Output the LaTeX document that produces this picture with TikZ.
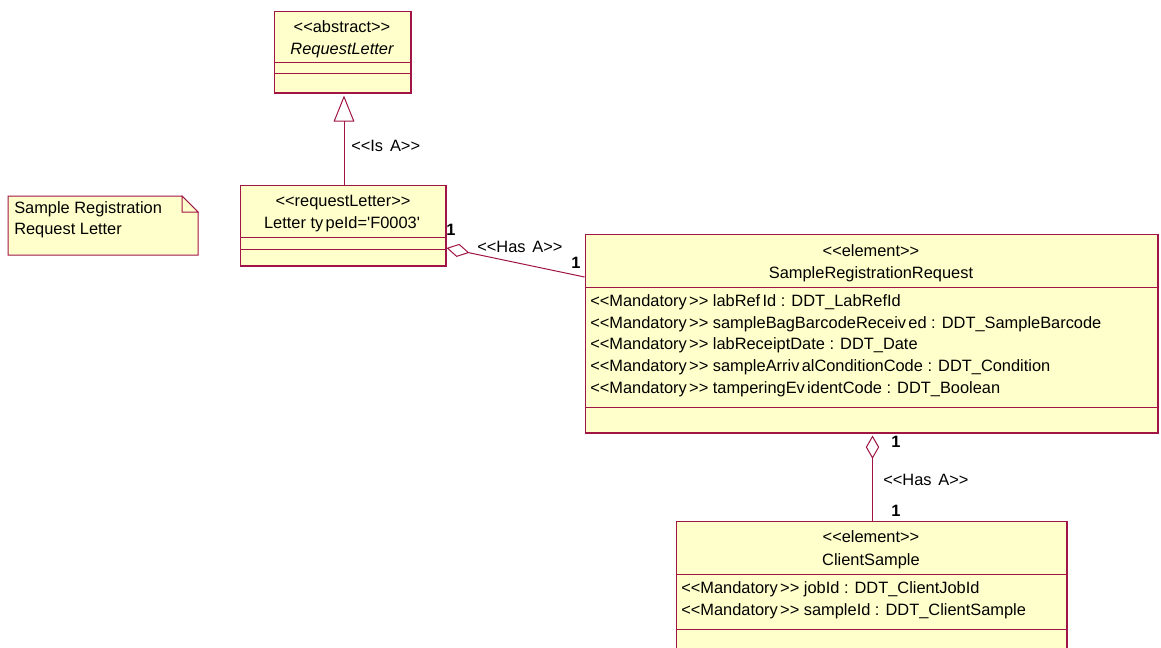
\documentclass[tikz,border=0pt]{standalone}
\usepackage{fontspec}
\setmainfont{Liberation Sans}
\usetikzlibrary{arrows.meta,fit,calc}
\definecolor{umlline}{RGB}{160,20,70}
\definecolor{umlfill}{RGB}{255,255,204}
\newcommand\sopen{\textless\kern0pt\textless}
\newcommand\sclose{\textgreater\kern0pt\textgreater}
\newcommand\gp{\hspace{0.14em}}
\tikzset{
  classbox/.style={draw=umlline, fill=umlfill, line width=0.75pt, inner sep=0pt},
  divider/.style={draw=umlline, line width=0.75pt},
  shadowedge/.style={draw=umlline, line width=1.5pt},
  txt/.style={inner sep=0pt, anchor=base, font=\fontsize{12.3}{14}\selectfont},
  attr/.style={txt, anchor=base west},
  mult/.style={txt, font=\fontsize{12.3}{14}\selectfont\bfseries},
  assoc/.style={draw=umlline, line width=0.75pt},
  aggtip/.style={{Diamond[open, length=17.5pt, width=10pt, line width=0.75pt]}-},
}
\begin{document}
\begin{tikzpicture}[x=0.75pt, y=-0.75pt]
\clip (0,0) rectangle (1161,647);
\fill[white] (0,0) rectangle (1161,647);

% abstract RequestLetter
\node[classbox, fit={(274,11) (410,92)}] (rl) {};
\draw[divider] ($(rl.north west)+(0,52)$) -- ($(rl.north east)+(0,52)$);
\draw[divider] ($(rl.north west)+(0,63)$) -- ($(rl.north east)+(0,63)$);
\draw[shadowedge] (rl.north east) -- (rl.south east) -- (rl.south west);
\node[txt] (rlst) at (342,32) {\sopen abstract\sclose};
\node[txt] (rlname) at (342,54) {\itshape RequestLetter};

% concrete request letter
\node[classbox, fit={(240,185) (445,265)}] (rq) {};
\draw[divider] ($(rq.north west)+(0,53)$) -- ($(rq.north east)+(0,53)$);
\draw[divider] ($(rq.north west)+(0,65)$) -- ($(rq.north east)+(0,65)$);
\draw[shadowedge] (rq.north east) -- (rq.south east) -- (rq.south west);
\node[txt] (rqst) at (343,206) {\sopen requestLetter\sclose};
\node[txt] (rqname) at (342,228) {Letter ty\gp peId=\textquotesingle F0003\textquotesingle};

% note
\path[draw=umlline, fill=umlfill, line width=0.75pt]
  (8,196) -- (182,196) -- (198,212) -- (198,255) -- (8,255) -- cycle;
\path[draw=umlline, fill=umlfill, line width=0.75pt]
  (182,196) -- (182,212) -- (198,212) -- cycle;
\node[attr] (note1) at (14,213) {Sample Registration};
\node[attr] (note2) at (14,234) {Request Letter};

% SampleRegistrationRequest
\node[classbox, fit={(585,234) (1157,432)}] (srr) {};
\draw[divider] ($(srr.north west)+(0,54)$) -- ($(srr.north east)+(0,54)$);
\draw[divider] ($(srr.north west)+(0,174)$) -- ($(srr.north east)+(0,174)$);
\draw[shadowedge] (srr.north east) -- (srr.south east) -- (srr.south west);
\node[txt] (srrst) at (871,256) {\sopen element\sclose};
\node[txt] (srrname) at (871,278) {SampleRegistrationRequest};
\node[attr] (a1) at (590,306) {\sopen Mandatory\gp\sclose{} labRef\gp Id : DDT\_LabRefId};
\node[attr] (a2) at (590,328) {\sopen Mandatory\gp\sclose{} sampleBagBarcodeReceiv\gp ed : DDT\_SampleBarcode};
\node[attr] (a3) at (590,349.5) {\sopen Mandatory\gp\sclose{} labReceiptDate : DDT\_Date};
\node[attr] (a4) at (590,371.5) {\sopen Mandatory\gp\sclose{} sampleArriv\gp alConditionCode : DDT\_Condition};
\node[attr] (a5) at (590,393.5) {\sopen Mandatory\gp\sclose{} tamperingEv\gp identCode : DDT\_Boolean};

% ClientSample
\node[classbox, fit={(676,521) (1066,662)}] (cs) {};
\draw[divider] ($(cs.north west)+(0,54)$) -- ($(cs.north east)+(0,54)$);
\draw[divider] ($(cs.north west)+(0,109)$) -- ($(cs.north east)+(0,109)$);
\draw[shadowedge] (cs.north east) -- (cs.south east);
\node[txt] (csst) at (871,542) {\sopen element\sclose};
\node[txt] (csname) at (871,565) {ClientSample};
\node[attr] (b1) at (681,593) {\sopen Mandatory\gp\sclose{} jobId : DDT\_ClientJobId};
\node[attr] (b2) at (681,615.5) {\sopen Mandatory\gp\sclose{} sampleId : DDT\_ClientSample};

% generalization
\draw[assoc, -{Triangle[open, length=19.5pt, width=15.5pt, line width=0.75pt]}, shorten >=2.25pt]
  (rq.north -| 344,0) -- (rl.south -| 344,0);
\node[attr] (isa) at (351,151) {\sopen Is\gp{} A\sclose};

% aggregation: request letter -> registration request
\coordinate (agg1s) at ($(rq.east)+(1,23)$);
\coordinate (agg1e) at ($(srr.west)+(0,-56)$);
\draw[assoc, aggtip] (agg1s) -- (agg1e);
\node[mult] (m1) at (451,235) {1};
\node[attr] (hasa1) at (477,252) {\sopen Has\gp{} A\sclose};
\node[mult] (m2) at (576,268) {1};

% aggregation: registration request -> client sample
\coordinate (agg2s) at ($(srr.south west)+(288,3)$);
\coordinate (agg2e) at ($(cs.north west)+(197,0)$);
\draw[assoc, aggtip] (agg2s) -- (agg2e);
\node[mult] (m3) at (896,447) {1};
\node[attr] (hasa2) at (883,485) {\sopen Has\gp{} A\sclose};
\node[mult] (m4) at (896,516) {1};
\end{tikzpicture}
\end{document}
